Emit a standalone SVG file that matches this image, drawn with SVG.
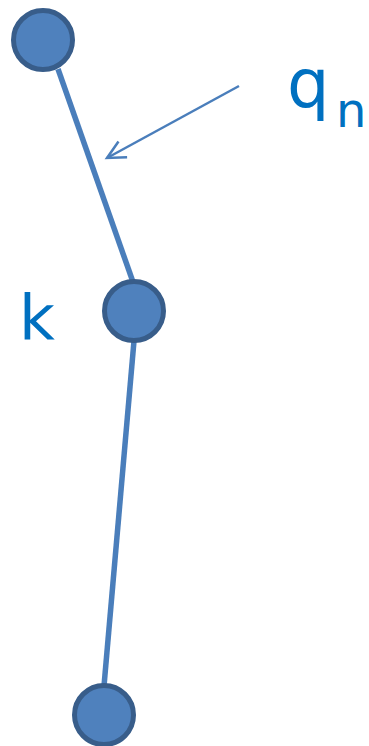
<svg xmlns="http://www.w3.org/2000/svg" width="369" height="746" viewBox="0 0 369 746">
<defs>
<style>
.edge{stroke:#4a7ebb;stroke-width:5.5;fill:none}
.arrow{stroke:#4a7ebb;stroke-width:2.5;fill:none}
.node{fill:#4f81bd;stroke:#385d8a;stroke-width:5}
.lbl{fill:#0070c0;font-family:"DejaVu Sans",sans-serif}
</style>
<marker id="ah" viewBox="0 0 12 12" refX="11" refY="6" markerWidth="12" markerHeight="12" markerUnits="userSpaceOnUse" orient="auto" overflow="visible">
<path d="M-7,-3 L11,6 L-7,15" fill="none" stroke="#4a7ebb" stroke-width="2.5"/>
</marker>
</defs>
<rect width="369" height="746" fill="#fff"/>
<g id="connectors">
<line class="edge" x1="58" y1="69" x2="133" y2="282"/>
<line class="edge" x1="134" y1="341" x2="104" y2="686"/>
<line class="arrow" x1="239" y1="86" x2="107" y2="158" marker-end="url(#ah)"/>
</g>
<g id="node1"><circle class="node" cx="43" cy="40" r="29.5"/></g>
<g id="node2"><circle class="node" cx="134" cy="311" r="29.5"/></g>
<g id="node3"><circle class="node" cx="104" cy="715" r="29.5"/></g>
<g id="label-k"><text class="lbl" x="19" y="339" font-size="62">k</text></g>
<g id="label-q"><text class="lbl" x="287" y="107" font-size="67">q<tspan font-size="48" x="336" y="127">n</tspan></text></g>
</svg>
